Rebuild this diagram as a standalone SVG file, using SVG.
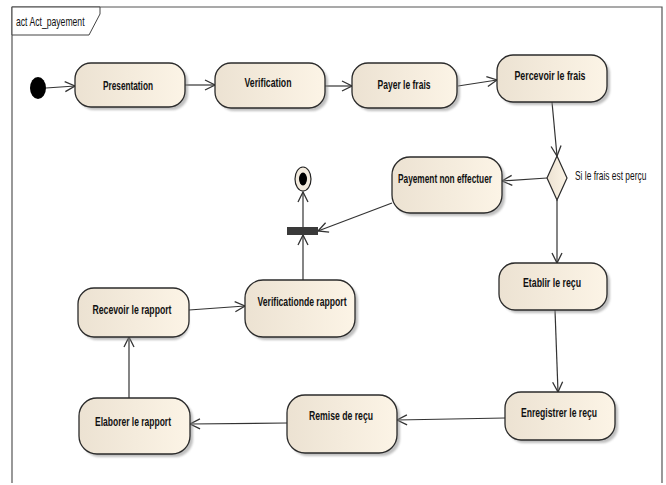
<svg xmlns="http://www.w3.org/2000/svg" width="666" height="485" viewBox="0 0 666 485">
  <style>
    .frame { fill: none; stroke: #555; stroke-width: 1.2; }
    .act { fill: url(#actFill); stroke: #2b2b2b; stroke-width: 1.3; }
    .shadow { fill: #8a8a8a; opacity: 0.55; filter: url(#soft); }
    .lbl { font-family: "Liberation Sans", Arial, sans-serif; font-size: 12px; font-weight: bold; fill: #111; text-anchor: middle; }
    .note { font-family: "Liberation Sans", Arial, sans-serif; font-size: 12px; fill: #111; }
    .flow { fill: none; stroke: #333; stroke-width: 1.2; marker-end: url(#open); }
  </style>
  <defs>
    <linearGradient id="actFill" x1="0" y1="0" x2="1" y2="0">
      <stop offset="0" stop-color="#ece2d2"/>
      <stop offset="1" stop-color="#fcf4e6"/>
    </linearGradient>
    <filter id="soft" x="-10%" y="-10%" width="120%" height="120%">
      <feGaussianBlur stdDeviation="1"/>
    </filter>
    <marker id="open" viewBox="0 0 12 12" refX="11" refY="6" markerWidth="12" markerHeight="12" markerUnits="userSpaceOnUse" orient="auto">
      <path d="M1,1 L11,6 L1,11" fill="none" stroke="#333" stroke-width="1.3"/>
    </marker>
  </defs>

  <rect width="666" height="485" fill="#ffffff"/>

  <!-- activity frame -->
  <g id="frame">
    <path class="frame" d="M12,483 L12,7 L662,7 L662,483"/>
    <path d="M12,7 L100,7 L100,14 L89,35 L12,35 Z" fill="#fff" stroke="#444" stroke-width="1"/>
    <text class="note" transform="translate(16,26) scale(0.72,1)">act Act_payement</text>
  </g>

  <!-- control flows -->
  <g id="connectors">
    <path class="flow" d="M46,88 L75,86"/>
    <path class="flow" d="M185,85 L215,85"/>
    <path class="flow" d="M325,86 L352,86"/>
    <path class="flow" d="M458,86 L497,80"/>
    <path class="flow" d="M552,102 L557,156"/>
    <path class="flow" d="M547,178 L502,181"/>
    <path class="flow" d="M557,200 L557,263"/>
    <path class="flow" d="M392,203 L318,231"/>
    <path class="flow" d="M303,227 L303,192"/>
    <path class="flow" d="M303,280 L303,235"/>
    <path class="flow" d="M189,310 L245,306"/>
    <path class="flow" d="M129,398 L129,337"/>
    <path class="flow" d="M555,310 L558,392"/>
    <path class="flow" d="M505,418 L397,420"/>
    <path class="flow" d="M287,423 L190,424"/>
  </g>

  <g id="initial">
    <ellipse cx="38" cy="88" rx="8" ry="11" fill="#000"/>
  </g>

  <g id="presentation">
    <rect class="shadow" x="78" y="66" width="110" height="44" rx="16"/>
    <rect class="act" x="75" y="63" width="110" height="44" rx="16"/>
    <text class="lbl" x="128" y="90" textLength="50" lengthAdjust="spacingAndGlyphs">Presentation</text>
  </g>

  <g id="verification">
    <rect class="shadow" x="218" y="66" width="110" height="45" rx="16"/>
    <rect class="act" x="215" y="63" width="110" height="45" rx="16"/>
    <text class="lbl" x="268" y="87" textLength="47" lengthAdjust="spacingAndGlyphs">Verification</text>
  </g>

  <g id="payer">
    <rect class="shadow" x="355" y="66" width="105" height="45" rx="16"/>
    <rect class="act" x="352" y="63" width="105" height="45" rx="16"/>
    <text class="lbl" x="404" y="89" textLength="53" lengthAdjust="spacingAndGlyphs">Payer le frais</text>
  </g>

  <g id="percevoir">
    <rect class="shadow" x="500" y="58" width="110" height="47" rx="16"/>
    <rect class="act" x="497" y="55" width="110" height="47" rx="16"/>
    <text class="lbl" x="550" y="80" textLength="71" lengthAdjust="spacingAndGlyphs">Percevoir le frais</text>
  </g>

  <g id="decision">
    <polygon points="557,156 567,178 557,200 547,178" fill="url(#actFill)" stroke="#2b2b2b" stroke-width="1.2"/>
    <text class="note" transform="translate(575,180) scale(0.7,1)">Si le frais est perçu</text>
  </g>

  <g id="non-effectuer">
    <rect class="shadow" x="395" y="160" width="110" height="56" rx="18"/>
    <rect class="act" x="392" y="157" width="110" height="56" rx="18"/>
    <text class="lbl" x="445" y="183" textLength="94" lengthAdjust="spacingAndGlyphs">Payement non effectuer</text>
  </g>

  <g id="final">
    <ellipse cx="303" cy="179" rx="8" ry="12" fill="#f3ebde" stroke="#222" stroke-width="1.2"/>
    <ellipse cx="303" cy="179" rx="4" ry="6.5" fill="#000"/>
  </g>

  <g id="join">
    <rect x="287" y="227" width="31" height="8" fill="#3a3a3a"/>
  </g>

  <g id="verif-rapport">
    <rect class="shadow" x="248" y="283" width="110" height="57" rx="18"/>
    <rect class="act" x="245" y="280" width="110" height="57" rx="18"/>
    <text class="lbl" x="302" y="306" textLength="89" lengthAdjust="spacingAndGlyphs">Verificationde rapport</text>
  </g>

  <g id="recevoir">
    <rect class="shadow" x="81" y="291" width="108" height="49" rx="16"/>
    <rect class="act" x="78" y="288" width="111" height="49" rx="16"/>
    <text class="lbl" x="132" y="314" textLength="79" lengthAdjust="spacingAndGlyphs">Recevoir le rapport</text>
  </g>

  <g id="etablir">
    <rect class="shadow" x="502" y="266" width="108" height="47" rx="16"/>
    <rect class="act" x="499" y="263" width="108" height="47" rx="16"/>
    <text class="lbl" x="552" y="287" textLength="58" lengthAdjust="spacingAndGlyphs">Etablir le reçu</text>
  </g>

  <g id="enregistrer">
    <rect class="shadow" x="508" y="395" width="110" height="48" rx="16"/>
    <rect class="act" x="505" y="392" width="110" height="48" rx="16"/>
    <text class="lbl" x="559" y="417" textLength="76" lengthAdjust="spacingAndGlyphs">Enregistrer le reçu</text>
  </g>

  <g id="remise">
    <rect class="shadow" x="290" y="398" width="110" height="58" rx="18"/>
    <rect class="act" x="287" y="395" width="110" height="58" rx="18"/>
    <text class="lbl" x="341" y="420" textLength="64" lengthAdjust="spacingAndGlyphs">Remise de reçu</text>
  </g>

  <g id="elaborer">
    <rect class="shadow" x="82" y="401" width="111" height="56" rx="18"/>
    <rect class="act" x="79" y="398" width="111" height="56" rx="18"/>
    <text class="lbl" x="133" y="426" textLength="76" lengthAdjust="spacingAndGlyphs">Elaborer le rapport</text>
  </g>
</svg>
